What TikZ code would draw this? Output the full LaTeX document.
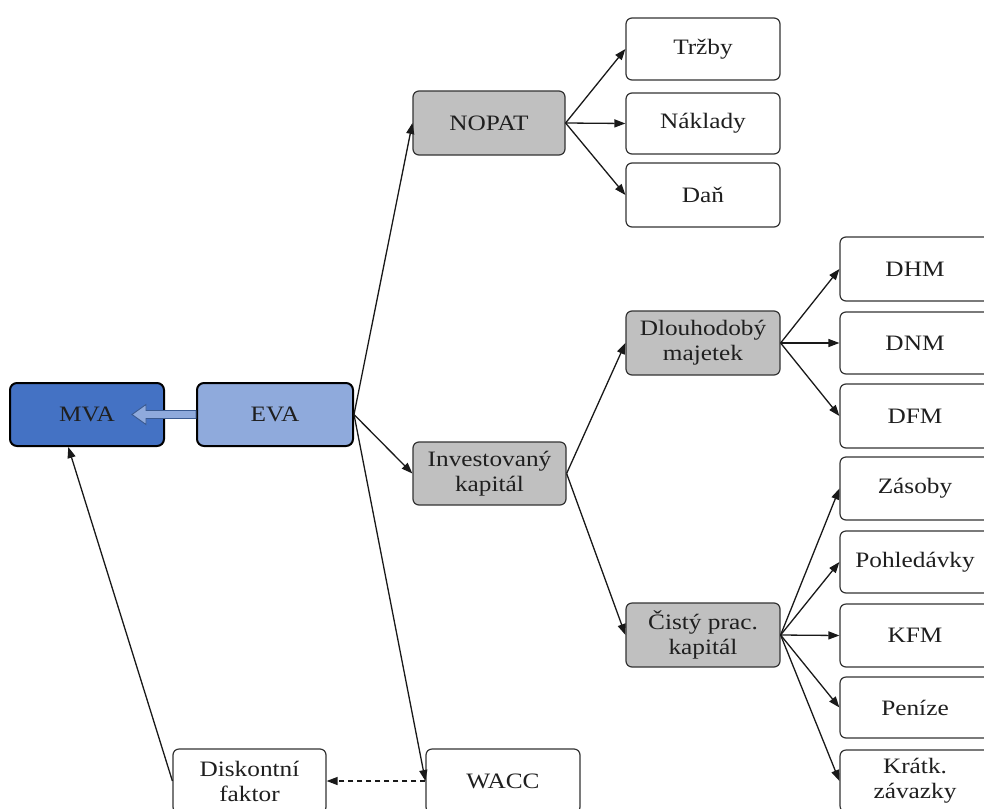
\documentclass[tikz,border=0pt]{standalone}
\usepackage{fontspec}
\setmainfont{Liberation Serif}[FakeStretch=1.15]
\usetikzlibrary{arrows.meta,calc}
\definecolor{mvablue}{HTML}{4472C4}
\definecolor{evablue}{HTML}{8FAADC}
\definecolor{boxgrey}{HTML}{C0C0C0}
\definecolor{arrowedge}{HTML}{3A5A90}
\begin{document}
\begin{tikzpicture}[x=1pt,y=-1pt,
  box/.style={draw=black!80, line width=1.2pt, rounded corners=6pt, fill=white,
    align=center, text=black!88, inner sep=0pt,
    font=\fontsize{22}{25}\selectfont},
  greybox/.style={box, fill=boxgrey},
  keybox/.style={box, draw=black, line width=2pt, rounded corners=7pt},
  conn/.style={-{Triangle[length=11pt,width=8pt]}, line width=1.3pt, draw=black!90},
  feedback/.style={conn, dash pattern=on 5pt off 4pt}]
\useasboundingbox (0,0) rectangle (984,808);
\clip (0,0) rectangle (984,808);

% main indicators
\node[keybox, fill=mvablue, minimum width=154pt, minimum height=63pt] (mva) at (87,414.5) {MVA};
\node[keybox, fill=evablue, minimum width=156pt, minimum height=63pt] (eva) at (275,414.5) {EVA};

% second level
\node[greybox, minimum width=152pt, minimum height=64pt] (nopat) at (489,123) {NOPAT};
\node[greybox, minimum width=153pt, minimum height=63pt] (invest) at (489.5,473.5) {Investovaný\\kapitál};
\node[box, minimum width=154pt, minimum height=64pt] (wacc) at (503,781) {WACC};
\node[box, minimum width=153pt, minimum height=64pt] (disk) at (249.5,781) {Diskontní\\faktor};

% components of NOPAT
\node[box, minimum width=154pt, minimum height=62pt] (trzby) at (703,49) {Tržby};
\node[box, minimum width=154pt, minimum height=61pt] (naklady) at (703,123.5) {Náklady};
\node[box, minimum width=154pt, minimum height=64pt] (dan) at (703,195) {Daň};

% components of invested capital
\node[greybox, minimum width=154pt, minimum height=64pt] (dlouh) at (703,343) {Dlouhodobý\\majetek};
\node[greybox, minimum width=154pt, minimum height=64pt] (cisty) at (703,635) {Čistý prac.\\kapitál};

% long-term assets
\node[box, minimum width=150pt, minimum height=64pt] (dhm) at (915,269) {DHM};
\node[box, minimum width=150pt, minimum height=62pt] (dnm) at (915,343) {DNM};
\node[box, minimum width=150pt, minimum height=64pt] (dfm) at (915,416) {DFM};

% net working capital
\node[box, minimum width=150pt, minimum height=63pt] (zasoby) at (915,488.5) {Zásoby};
\node[box, minimum width=150pt, minimum height=62pt] (pohl) at (915,562) {Pohledávky};
\node[box, minimum width=150pt, minimum height=63pt] (kfm) at (915,635.5) {KFM};
\node[box, minimum width=150pt, minimum height=61pt] (penize) at (915,707.5) {Peníze};
\node[box, minimum width=150pt, minimum height=62pt] (kratk) at (915,781) {Krátk.\\závazky};

% hollow block arrow EVA -> MVA
\path (eva.west) coordinate (ha);
\filldraw[fill=evablue, draw=arrowedge, line width=0.9pt]
  ($(ha)+(0,-4)$) -- ($(ha)+(-50,-4)$) -- ($(ha)+(-50,-10)$) -- ($(ha)+(-64,0)$)
  -- ($(ha)+(-50,10)$) -- ($(ha)+(-50,4)$) -- ($(ha)+(0,4)$) -- cycle;

% connectors
\draw[conn] (eva.east) -- (nopat.west);
\draw[conn] (eva.east) -- (invest.west);
\draw[conn] (eva.east) -- (wacc.west);

\draw[conn] (nopat.east) -- (trzby.west);
\draw[conn] (nopat.east) -- (naklady.west);
\draw[conn] (nopat.east) -- (dan.west);

\draw[conn] (invest.east) -- (dlouh.west);
\draw[conn] (invest.east) -- (cisty.west);

\draw[conn] (dlouh.east) -- (dhm.west);
\draw[conn] (dlouh.east) -- (dnm.west);
\draw[conn] (dlouh.east) -- (dfm.west);

\draw[conn] (cisty.east) -- (zasoby.west);
\draw[conn] (cisty.east) -- (pohl.west);
\draw[conn] (cisty.east) -- (kfm.west);
\draw[conn] (cisty.east) -- (penize.west);
\draw[conn] (cisty.east) -- (kratk.west);

\draw[feedback] (wacc.west) -- (disk.east);
\coordinate (mvain) at ($(mva.south west)!0.38!(mva.south east)$);
\draw[conn] (disk.west) -- (mvain);
\end{tikzpicture}
\end{document}
